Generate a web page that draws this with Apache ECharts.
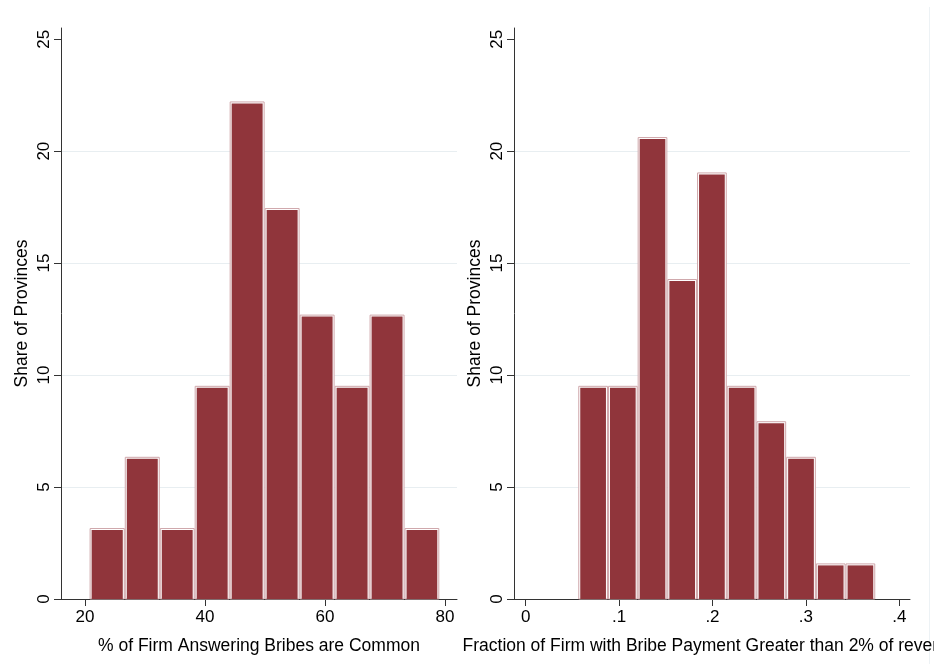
<!DOCTYPE html>
<html><head><meta charset="utf-8">
<script src="https://cdn.jsdelivr.net/npm/echarts@6/dist/echarts.min.js"></script>
<style>html,body{margin:0;padding:0;background:#fff}#c{width:934px;height:664px}</style>
</head><body><div id="c"></div>
<script>
// Data
const leftBinEdges = [20.77, 26.63, 32.46, 38.28, 44.11, 49.94, 55.77, 61.60, 67.43, 73.26, 79.05];
const leftShares = [3.17, 6.35, 3.17, 9.52, 22.22, 17.46, 12.70, 9.52, 12.70, 3.17];
const rightBinEdges = [0.0563, 0.0881, 0.1199, 0.1517, 0.1835, 0.2153, 0.2471, 0.2789, 0.3107, 0.3425, 0.3743];
const rightShares = [9.52, 9.52, 20.63, 14.29, 19.05, 9.52, 7.94, 6.35, 1.59, 1.59];
const yTicks = [0, 5, 10, 15, 20, 25];
const leftXTicks = [20, 40, 60, 80];
const rightXTicks = [0, 0.1, 0.2, 0.3, 0.4];
const rightXTickLabels = ['0', '.1', '.2', '.3', '.4'];
const yTitle = 'Share of Provinces';
const leftXTitle = '% of Firm Answering Bribes are Common';
const rightXTitle = 'Fraction of Firm with Bribe Payment Greater than 2% of revenue';

const FONT = 'Liberation Sans, Arial, Helvetica, sans-serif';
const AXIS_COLOR = '#333';
const BAR_FILL = '#90353b';
const BAR_EDGE = '#cfa7ab';

function toBins(edges, vals) {
  return vals.map((v, i) => [edges[i], edges[i + 1], v]);
}

function renderBar(params, api) {
  const p0 = api.coord([api.value(0), 0]);
  const p1 = api.coord([api.value(1), api.value(2)]);
  const x = p0[0], y = p1[1], w = p1[0] - p0[0], h = p0[1] - p1[1];
  return {
    type: 'group',
    children: [
      { type: 'rect', shape: { x: x + 0.5, y: y + 0.5, width: w - 1, height: h - 0.5 },
        style: { fill: '#fff', stroke: BAR_EDGE, lineWidth: 1 } },
      { type: 'rect', shape: { x: x + 2, y: y + 2, width: w - 4, height: h - 2 },
        style: { fill: BAR_FILL } }
    ]
  };
}

function yAxisDef(gi) {
  return {
    gridIndex: gi, type: 'value', min: 0, max: 25.5, interval: 5,
    name: yTitle, nameLocation: 'middle', nameGap: 30, nameRotate: 90,
    nameTextStyle: { fontFamily: FONT, fontSize: 17.5, color: '#000' },
    axisLine: { show: true, onZero: false, lineStyle: { color: AXIS_COLOR, width: 1 } },
    axisTick: { show: true, length: 7, customValues: yTicks, lineStyle: { color: AXIS_COLOR } },
    axisLabel: { customValues: yTicks, rotate: 90, margin: 8, fontFamily: FONT, fontSize: 17, color: '#000' },
    splitLine: { show: true, showMinLine: false, showMaxLine: false, lineStyle: { color: '#e8eef1', width: 1 } }
  };
}

function xAxisDef(gi, min, max, ticks, labels, title) {
  return {
    gridIndex: gi, type: 'value', min: min, max: max,
    name: title, nameLocation: 'middle', nameGap: 38,
    nameTextStyle: { fontFamily: FONT, fontSize: 17.5, color: '#000' },
    axisLine: { show: true, onZero: false, lineStyle: { color: AXIS_COLOR, width: 1 } },
    axisTick: { show: true, length: 7, customValues: ticks, lineStyle: { color: AXIS_COLOR } },
    axisLabel: {
      customValues: ticks, margin: 10, fontFamily: FONT, fontSize: 17, color: '#000',
      formatter: function (v) {
        const i = ticks.indexOf(v);
        return labels && i >= 0 ? labels[i] : String(v);
      }
    },
    splitLine: { show: false }
  };
}

const chart = echarts.init(document.getElementById('c'), null, { renderer: 'canvas' });
chart.setOption({
  animation: false,
  backgroundColor: '#fff',
  graphic: [
    { type: 'line', silent: true, shape: { x1: 929.5, y1: 7, x2: 929.5, y2: 664 },
      style: { stroke: '#edf2f5', lineWidth: 1 } }
  ],
  grid: [
    { left: 61, top: 28, width: 396, height: 571, containLabel: false, outerBoundsMode: 'none' },
    { left: 514, top: 28, width: 396, height: 571, containLabel: false, outerBoundsMode: 'none' }
  ],
  xAxis: [
    xAxisDef(0, 16, 82, leftXTicks, null, leftXTitle),
    xAxisDef(1, -0.0125, 0.4115, rightXTicks, rightXTickLabels, rightXTitle)
  ],
  yAxis: [yAxisDef(0), yAxisDef(1)],
  series: [
    { type: 'custom', xAxisIndex: 0, yAxisIndex: 0, renderItem: renderBar,
      encode: { x: [0, 1], y: 2 }, data: toBins(leftBinEdges, leftShares) },
    { type: 'custom', xAxisIndex: 1, yAxisIndex: 1, renderItem: renderBar,
      encode: { x: [0, 1], y: 2 }, data: toBins(rightBinEdges, rightShares) }
  ]
});
</script>
</body></html>
